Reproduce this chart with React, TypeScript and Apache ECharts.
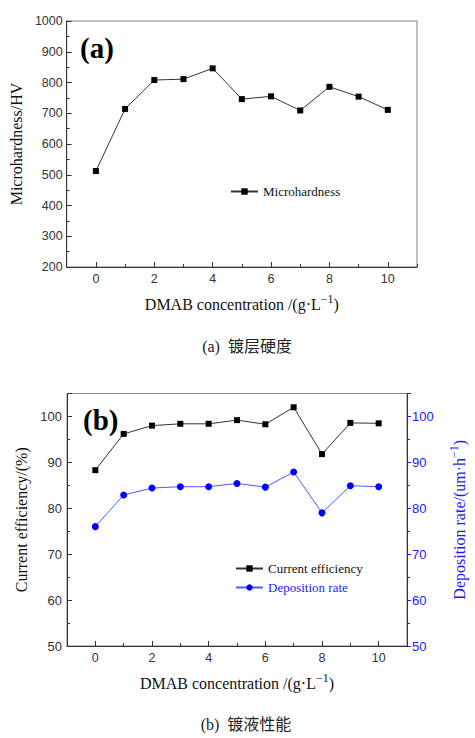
import React, { useEffect, useRef } from "react";
import * as echarts from "echarts";

const concentrations = [0, 1, 2, 3, 4, 5, 6, 7, 8, 9, 10];
const microhardness = [512, 714, 808, 811, 846, 746, 755, 709, 786, 754, 711];
const currentEfficiency = [88.3, 96.2, 98.0, 98.4, 98.4, 99.2, 98.3, 102.0, 91.8, 98.6, 98.5];
const depositionRate = [76.0, 82.9, 84.4, 84.7, 84.7, 85.4, 84.6, 87.9, 79.0, 84.9, 84.7];
const xTickLabels = [0, 2, 4, 6, 8, 10];

const SERIF = "Liberation Serif";
const SANS = "Liberation Sans";
const CJK = "Liberation Serif, Noto Sans CJK SC";
const BLUE = "#1a1aff";

const pairs = (ys: number[]) => concentrations.map((x, i) => [x, ys[i]]);

function xAxes(gridIndex: number) {
  const nameRich = {
    a: { fontFamily: SERIF, fontSize: 16, color: "#111" },
    s: { fontFamily: SERIF, fontSize: 12, color: "#111", padding: [0, 0, 10, 0] },
  };
  return [
    {
      type: "value",
      gridIndex,
      min: -1,
      max: 11,
      interval: 1,
      splitLine: { show: false },
      axisLine: { onZero: false, lineStyle: { color: "#333", width: 1 } },
      axisTick: { inside: true, length: 3, lineStyle: { color: "#333" } },
      axisLabel: {
        margin: 5,
        fontFamily: SANS,
        fontSize: 12.5,
        color: "#333",
        formatter: (v: number) => (xTickLabels.includes(v) ? String(v) : ""),
      },
      name: "{a|DMAB concentration /(g·L}{s|−1}{a|)}",
      nameLocation: "middle",
      nameGap: 26,
      nameTextStyle: { fontFamily: SERIF, fontSize: 16, color: "#111", rich: nameRich },
    },
    {
      type: "value",
      gridIndex,
      min: -1,
      max: 11,
      interval: 1,
      position: "bottom",
      splitLine: { show: false },
      axisLine: { show: false, onZero: false },
      axisTick: {
        inside: true,
        length: 5,
        customValues: xTickLabels,
        lineStyle: { color: "#333" },
      },
      axisLabel: { show: false },
    },
  ];
}

export default function App() {
  const ref = useRef<HTMLDivElement>(null);
  useEffect(() => {
    if (!ref.current) return;
    const chart = echarts.init(ref.current, undefined, { renderer: "svg" });
    const option: any = {
      animation: false,
      backgroundColor: "#fff",
      textStyle: { fontFamily: SERIF },
      grid: [
        { left: 64, top: 21, width: 353, height: 246, show: true, borderColor: "#808080", borderWidth: 1, backgroundColor: "transparent" },
        { left: 67, top: 393.5, width: 360, height: 252.5, show: true, borderColor: "#808080", borderWidth: 1, backgroundColor: "transparent" },
      ],
      xAxis: [...xAxes(0), ...xAxes(1)],
      yAxis: [
        {
          type: "value",
          gridIndex: 0,
          min: 200,
          max: 1000,
          interval: 100,
          splitLine: { show: false },
          axisLine: { show: true, onZero: false, lineStyle: { color: "#333" } },
          axisTick: { show: true, inside: true, length: 5, lineStyle: { color: "#333" } },
          minorTick: { show: true, splitNumber: 2, length: 3, lineStyle: { color: "#333" } },
          axisLabel: { margin: 4, fontFamily: SANS, fontSize: 12.5, color: "#333", formatter: (v: number) => String(v) },
          name: "Microhardness/HV",
          nameLocation: "middle",
          nameGap: 37,
          nameTextStyle: { fontFamily: SERIF, fontSize: 16, color: "#111" },
        },
        {
          type: "value",
          gridIndex: 1,
          min: 50,
          max: 105,
          interval: 10,
          splitLine: { show: false },
          axisLine: { show: true, onZero: false, lineStyle: { color: "#333" } },
          axisTick: { show: true, inside: true, length: 5, lineStyle: { color: "#333" } },
          minorTick: { show: true, splitNumber: 2, length: 3, lineStyle: { color: "#333" } },
          axisLabel: {
            margin: 5,
            fontFamily: SANS,
            fontSize: 13,
            color: "#333",
            formatter: (v: number) => (v % 10 === 0 ? String(v) : ""),
          },
          name: "Current efficiency/(%)",
          nameLocation: "middle",
          nameGap: 26,
          nameTextStyle: { fontFamily: SERIF, fontSize: 16, color: "#111" },
        },
        {
          type: "value",
          gridIndex: 1,
          position: "right",
          min: 50,
          max: 105,
          interval: 10,
          splitLine: { show: false },
          axisLine: { show: true, onZero: false, lineStyle: { color: BLUE } },
          axisTick: { show: true, inside: false, length: 4, lineStyle: { color: BLUE } },
          minorTick: { show: true, splitNumber: 2, length: 3, lineStyle: { color: BLUE } },
          axisLabel: {
            margin: 5,
            fontFamily: SANS,
            fontSize: 13,
            color: BLUE,
            formatter: (v: number) => (v % 10 === 0 ? String(v) : ""),
          },
          name: "{a|Deposition rate/(um·h}{s|−1}{a|)}",
          nameLocation: "middle",
          nameGap: 41,
          nameTextStyle: {
            fontFamily: SERIF,
            fontSize: 16,
            color: BLUE,
            rich: {
              a: { fontFamily: SERIF, fontSize: 16, color: BLUE },
              s: { fontFamily: SERIF, fontSize: 12, color: BLUE, padding: [0, 0, 10, 0] },
            },
          },
        },
      ],
      legend: [
        {
          left: 225,
          top: 180,
          itemWidth: 27,
          itemHeight: 8,
          itemGap: 6,
          textStyle: { fontFamily: SERIF, fontSize: 13, color: "#111" },
          data: [{ name: "Microhardness" }],
        },
        {
          left: 230,
          top: 557,
          orient: "vertical",
          itemWidth: 27,
          itemHeight: 8,
          itemGap: 6,
          textStyle: { fontFamily: SERIF, fontSize: 13, color: "#111" },
          data: [
            { name: "Current efficiency" },
            { name: "Deposition rate", textStyle: { color: BLUE } },
          ],
        },
      ],
      series: [
        {
          name: "Microhardness",
          type: "line",
          xAxisIndex: 0,
          yAxisIndex: 0,
          data: pairs(microhardness),
          symbol: "rect",
          symbolSize: 6,
          itemStyle: { color: "#000" },
          lineStyle: { color: "#333", width: 1 },
        },
        {
          name: "Current efficiency",
          type: "line",
          xAxisIndex: 2,
          yAxisIndex: 1,
          data: pairs(currentEfficiency),
          symbol: "rect",
          symbolSize: 6,
          itemStyle: { color: "#000" },
          lineStyle: { color: "#333", width: 1 },
        },
        {
          name: "Deposition rate",
          type: "line",
          xAxisIndex: 2,
          yAxisIndex: 2,
          data: pairs(depositionRate),
          symbol: "circle",
          symbolSize: 7,
          itemStyle: { color: "#0000ff" },
          lineStyle: { color: "#4d5cff", width: 1 },
        },
      ],
      graphic: [
        { type: "text", left: 80, top: 33, style: { text: "(a)", fontFamily: SERIF, fontWeight: "bold", fontSize: 29, fill: "#000" } },
        { type: "text", left: 83, top: 405, style: { text: "(b)", fontFamily: SERIF, fontWeight: "bold", fontSize: 29, fill: "#000" } },
        { type: "text", x: 247, y: 346, style: { text: "(a)  镀层硬度", fontFamily: CJK, fontSize: 16, fill: "#222", align: "center", verticalAlign: "middle" } },
        { type: "text", x: 246, y: 724, style: { text: "(b)  镀液性能", fontFamily: CJK, fontSize: 16, fill: "#222", align: "center", verticalAlign: "middle" } },
      ],
    };
    chart.setOption(option);
    return () => chart.dispose();
  }, []);
  return (
    <div
      ref={ref}
      style={{ position: "absolute", left: 0, top: 0, width: 475, height: 738, background: "#fff" }}
    />
  );
}
